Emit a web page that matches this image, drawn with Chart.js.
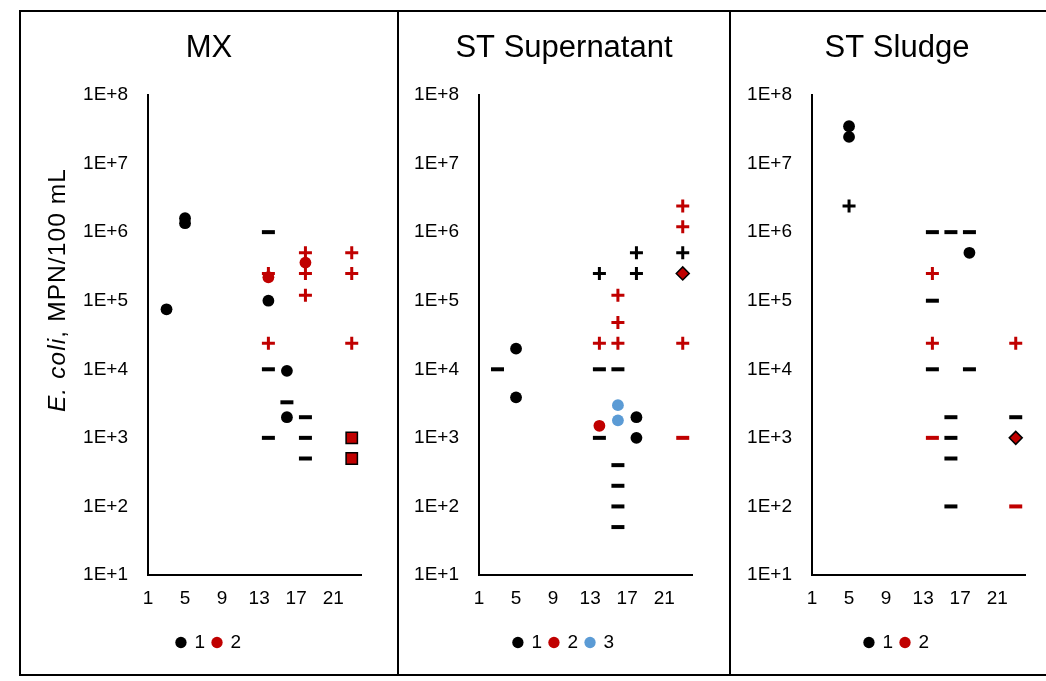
<!DOCTYPE html>
<html>
<head>
<meta charset="utf-8">
<script src="https://cdn.jsdelivr.net/npm/chart.js@4.4.1/dist/chart.umd.min.js"></script>
<style>
  html, body { margin: 0; padding: 0; background: #fff; width: 1046px; height: 681px; overflow: hidden; }
  #frame { position: absolute; left: 19px; top: 10px; width: 1100px; height: 666px; border: 2px solid #000; box-sizing: border-box; }
  .divider { position: absolute; top: 10px; width: 2px; height: 666px; background: #000; }
  canvas { position: absolute; top: 12px; }
</style>
</head>
<body>
<div id="frame"></div>
<div class="divider" style="left:397px"></div>
<div class="divider" style="left:729px"></div>
<canvas id="c1" width="376" height="662" style="left:21px"></canvas>
<canvas id="c2" width="330" height="662" style="left:399px"></canvas>
<canvas id="c3" width="332" height="662" style="left:731px"></canvas>
<script>
// ---------- data ----------
const panelTitles = ['MX', 'ST Supernatant', 'ST Sludge'];
const xTickValues = [1, 5, 9, 13, 17, 21];
const xTickLabels = ['1', '5', '9', '13', '17', '21'];
const yTickValues = [1e1, 1e2, 1e3, 1e4, 1e5, 1e6, 1e7, 1e8];
const yTickLabels = ['1E+1', '1E+2', '1E+3', '1E+4', '1E+5', '1E+6', '1E+7', '1E+8'];
const seriesNames = ['1', '2', '3'];
// marker codes: c = circle, d = dash, p = plus, s = square, r = diamond

// MX
const mx1X = [3, 5, 5, 14, 14, 14, 14, 16, 16, 16, 18, 18, 18];
const mx1Y = [75000, 1600000, 1350000, 1000000, 100000, 10000, 1000, 9500, 3300, 2000, 2000, 1000, 500];
const mx1M = ['c', 'c', 'c', 'd', 'c', 'd', 'd', 'c', 'd', 'c', 'd', 'd', 'd'];
const mx2X = [14, 14, 18, 18, 18, 18, 23, 23, 23, 23, 23, 14];
const mx2Y = [250000, 24000, 500000, 250000, 120000, 360000, 500000, 250000, 24000, 1000, 500, 220000];
const mx2M = ['p', 'p', 'p', 'p', 'p', 'c', 'p', 'p', 'p', 's', 's', 'c'];

// ST Supernatant
const sup1X = [3, 5, 5, 14, 14, 14, 16, 16, 16, 16, 16, 18, 18, 18, 18, 23];
const sup1Y = [10000, 20000, 3900, 250000, 10000, 1000, 10000, 400, 200, 100, 50, 500000, 250000, 2000, 1000, 500000];
const sup1M = ['d', 'c', 'c', 'p', 'd', 'd', 'd', 'd', 'd', 'd', 'd', 'p', 'p', 'c', 'c', 'p'];
const sup2X = [14, 14, 16, 16, 16, 23, 23, 23, 23, 23];
const sup2Y = [24000, 1500, 120000, 48000, 24000, 2400000, 1200000, 250000, 24000, 1000];
const sup2M = ['p', 'c', 'p', 'p', 'p', 'p', 'p', 'r', 'p', 'd'];
const sup3X = [16, 16];
const sup3Y = [3000, 1800];
const sup3M = ['c', 'c'];

// ST Sludge
const slu1X = [5, 5, 5, 14, 16, 18, 18, 14, 14, 18, 16, 23, 16, 16, 16];
const slu1Y = [35000000, 24500000, 2400000, 1000000, 1000000, 1000000, 500000, 100000, 10000, 10000, 2000, 2000, 1000, 500, 100];
const slu1M = ['c', 'c', 'p', 'd', 'd', 'd', 'c', 'd', 'd', 'd', 'd', 'd', 'd', 'd', 'd'];
const slu2X = [14, 14, 23, 14, 23, 23];
const slu2Y = [250000, 24000, 24000, 1000, 1000, 100];
const slu2M = ['p', 'p', 'p', 'd', 'r', 'd'];

// ---------- styling ----------
const FONT = "'Liberation Sans', Arial, Helvetica, sans-serif";
Chart.defaults.font.family = FONT;
Chart.defaults.color = '#000';
const seriesColors = ['#000000', '#C00000', '#5B9BD5'];
const markerStyle = {
  c: { style: 'circle', radius: 5.9, border: 0 },
  d: { style: 'line', radius: 6.5, border: 4 },
  p: { style: 'cross', radius: 6.5, border: 3 },
  s: { style: 'rect', radius: 8, border: 1.5 },
  r: { style: 'rectRot', radius: 6.5, border: 1.5 }
};

function makeDataset(xs, ys, ms, si) {
  const col = seriesColors[si];
  const outlined = m => (m === 's' || m === 'r');
  return {
    label: seriesNames[si],
    data: xs.map((x, i) => ({ x: x, y: ys[i] })),
    showLine: false,
    pointStyle: ms.map(m => markerStyle[m].style),
    pointRadius: ms.map(m => markerStyle[m].radius),
    pointHoverRadius: ms.map(m => markerStyle[m].radius),
    pointBorderWidth: ms.map(m => markerStyle[m].border),
    pointBackgroundColor: ms.map(() => col),
    pointBorderColor: ms.map(m => outlined(m) ? '#000' : col),
    borderColor: col,
    backgroundColor: col
  };
}

const yAxisTitlePlugin = {
  id: 'yAxisTitle',
  afterDraw(chart, args, opts) {
    if (!opts.show) return;
    const ctx = chart.ctx;
    ctx.save();
    ctx.translate(opts.x, opts.y);
    ctx.rotate(-Math.PI / 2);
    ctx.fillStyle = '#000';
    ctx.textBaseline = 'middle';
    if ('letterSpacing' in ctx) ctx.letterSpacing = opts.spacing + 'px';
    const f1 = 'italic ' + opts.size + 'px ' + FONT;
    const f2 = opts.size + 'px ' + FONT;
    ctx.font = f1; const w1 = ctx.measureText('E. coli').width;
    ctx.font = f2; const w2 = ctx.measureText(', MPN/100 mL').width;
    const start = -(w1 + w2) / 2;
    ctx.font = f1; ctx.textAlign = 'left'; ctx.fillText('E. coli', start, 0);
    ctx.font = f2; ctx.fillText(', MPN/100 mL', start + w1, 0);
    ctx.restore();
  }
};

function makeChart(id, pi, datasets, leftW, padRight, showYTitle) {
  const nSeries = datasets.length;
  return new Chart(document.getElementById(id), {
    type: 'scatter',
    data: { datasets: datasets },
    plugins: [yAxisTitlePlugin],
    options: {
      responsive: false,
      animation: false,
      devicePixelRatio: 1,
      layout: { padding: { left: 0, right: 0, top: 0, bottom: 12 } },
      scales: {
        x: {
          type: 'linear',
          min: 1, max: 24,
          grid: { display: false, drawTicks: false },
          border: { display: true, color: '#000', width: 2 },
          afterBuildTicks: s => { s.ticks = xTickValues.map(v => ({ value: v })); },
          afterFit: s => { s.height = 50; s.paddingRight = padRight; },
          ticks: {
            autoSkip: false, maxRotation: 0, padding: 12,
            font: { size: 19 }, color: '#000',
            callback: (v, i) => xTickLabels[i]
          }
        },
        y: {
          type: 'logarithmic',
          min: 10, max: 1e8,
          grid: { display: false, drawTicks: false },
          border: { display: true, color: '#000', width: 2 },
          afterBuildTicks: s => { s.ticks = yTickValues.map(v => ({ value: v })); },
          afterFit: s => { s.width = leftW; },
          ticks: {
            autoSkip: false, padding: 20,
            font: { size: 19 }, color: '#000',
            callback: (v, i) => yTickLabels[i]
          }
        }
      },
      plugins: {
        title: {
          display: true, text: panelTitles[pi], color: '#000',
          font: { size: 31, weight: 'normal' },
          padding: { top: 17.4, bottom: 28.4 }
        },
        legend: {
          display: true, position: 'bottom',
          labels: {
            usePointStyle: true, boxWidth: 8, boxHeight: 8, padding: 8,
            font: { size: 19 }, color: '#000',
            generateLabels: () => seriesNames.slice(0, nSeries).map((n, i) => ({
              text: n, fillStyle: seriesColors[i], strokeStyle: seriesColors[i],
              lineWidth: 0, pointStyle: 'circle', hidden: false, datasetIndex: i
            }))
          }
        },
        tooltip: { enabled: false },
        yAxisTitle: { show: showYTitle, x: 37, y: 278, size: 24.5, spacing: 1.1 }
      }
    }
  });
}

makeChart('c1', 0, [
  makeDataset(mx1X, mx1Y, mx1M, 0),
  makeDataset(mx2X, mx2Y, mx2M, 1)
], 127, 36, true);

makeChart('c2', 1, [
  makeDataset(sup1X, sup1Y, sup1M, 0),
  makeDataset(sup2X, sup2Y, sup2M, 1),
  makeDataset(sup3X, sup3Y, sup3M, 2)
], 80, 37, false);

makeChart('c3', 2, [
  makeDataset(slu1X, slu1Y, slu1M, 0),
  makeDataset(slu2X, slu2Y, slu2M, 1)
], 81, 38, false);
</script>
</body>
</html>
